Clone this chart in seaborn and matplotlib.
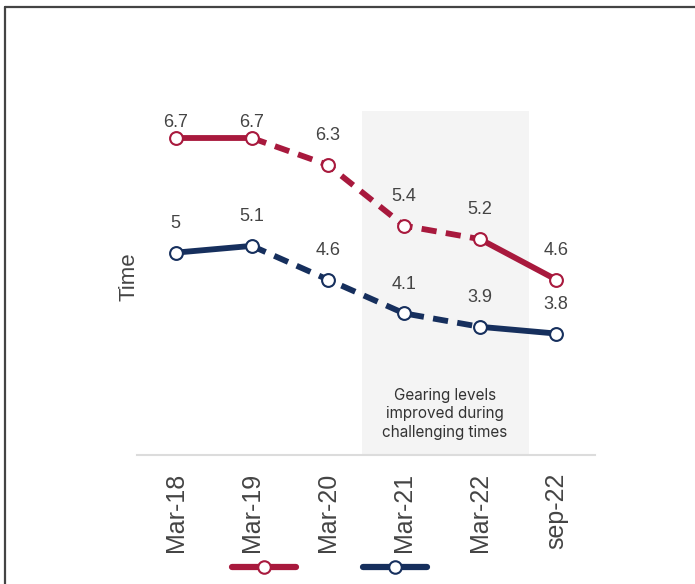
import pandas as pd
import matplotlib.pyplot as plt
import seaborn as sns
from matplotlib.lines import Line2D

# === Data ===
periods = ["Mar-18", "Mar-19", "Mar-20", "Mar-21", "Mar-22", "sep-22"]
red_values = [6.7, 6.7, 6.3, 5.4, 5.2, 4.6]
blue_values = [5.0, 5.1, 4.6, 4.1, 3.9, 3.8]
value_labels_red = ["6.7", "6.7", "6.3", "5.4", "5.2", "4.6"]
value_labels_blue = ["5", "5.1", "4.6", "4.1", "3.9", "3.8"]
note_text = "Gearing levels\nimproved during\nchallenging times"

RED = "#a8193d"
BLUE = "#162f5d"
TEXT = "#444444"

df = pd.DataFrame({"idx": range(len(periods)), "period": periods,
                   "red": red_values, "blue": blue_values})

sns.set_theme(style="white")
plt.rcParams['font.family'] = ['Liberation Sans', 'DejaVu Sans']

fig = plt.figure(figsize=(6.95, 5.84), dpi=100)
ax = fig.add_axes([0.197, 0.221, 0.659, 0.612])

# shaded "challenging times" band
ax.fill_between([2.45, 4.65], 2.0, 7.1, color="#f4f4f4", zorder=0, lw=0)

segments = [([0, 1], "-"), ([1, 2, 3, 4], "--"), ([4, 5], "-")]
for col, color in [("red", RED), ("blue", BLUE)]:
    for ids, ls in segments:
        sub = df.iloc[ids]
        sns.lineplot(data=sub, x="idx", y=col, ax=ax, color=color,
                     lw=4.2, zorder=2)
        l = ax.lines[-1]
        l.set_solid_capstyle("round")
        if ls == "--":
            l.set_dashes((2.6, 1.6))
    sns.scatterplot(data=df, x="idx", y=col, ax=ax, color="white",
                    edgecolor=color, linewidth=1.5, s=85, zorder=3)

# value labels
for col, labels in [("red", value_labels_red), ("blue", value_labels_blue)]:
    for i, (v, lab) in enumerate(zip(df[col], labels)):
        off = 11 if v > 6.5 else 21
        ax.annotate(lab, (i, v), xytext=(0, off), textcoords="offset points",
                    ha="center", va="center", fontsize=13, color=TEXT)

ax.text(3.54, 2.61, note_text, ha="center", va="center", fontsize=11,
        color="#333333", family=["Inter", "DejaVu Sans"], linespacing=1.3)

ax.set_xlim(-0.51, 5.51)
ax.set_ylim(2.0, 7.3)
ax.set_xticks(range(len(periods)))
ax.set_xticklabels(periods, rotation=90, fontsize=18, color=TEXT)
ax.tick_params(axis="x", length=0, pad=13)
ax.set_yticks([])
ax.set_xlabel("")
ax.set_ylabel("Time", fontsize=16, color=TEXT, labelpad=-2)
for s in ["top", "right", "left"]:
    ax.spines[s].set_visible(False)
ax.spines["bottom"].set_color("#dcdcdc")
ax.spines["bottom"].set_linewidth(1.5)
ax.set_facecolor("none")

# legend handles only
handles = [Line2D([], [], color=RED, lw=4.5, marker="o", markersize=9,
                  markerfacecolor="white", markeredgecolor=RED, markeredgewidth=1.5),
           Line2D([], [], color=BLUE, lw=4.5, marker="o", markersize=9,
                  markerfacecolor="white", markeredgecolor=BLUE, markeredgewidth=1.5)]
fig.legend(handles, ["", ""], loc="center", bbox_to_anchor=(0.474, 0.026),
           ncol=2, frameon=False, handlelength=4.2, columnspacing=4.4,
           handletextpad=0)

# frame lines on left and top
fig.add_artist(Line2D([0.0065, 0.0065], [0, 0.988], color="#444444", lw=1.6))
fig.add_artist(Line2D([0.0065, 1.0], [0.988, 0.988], color="#444444", lw=1.6))

fig.savefig("out.png", dpi=100)
